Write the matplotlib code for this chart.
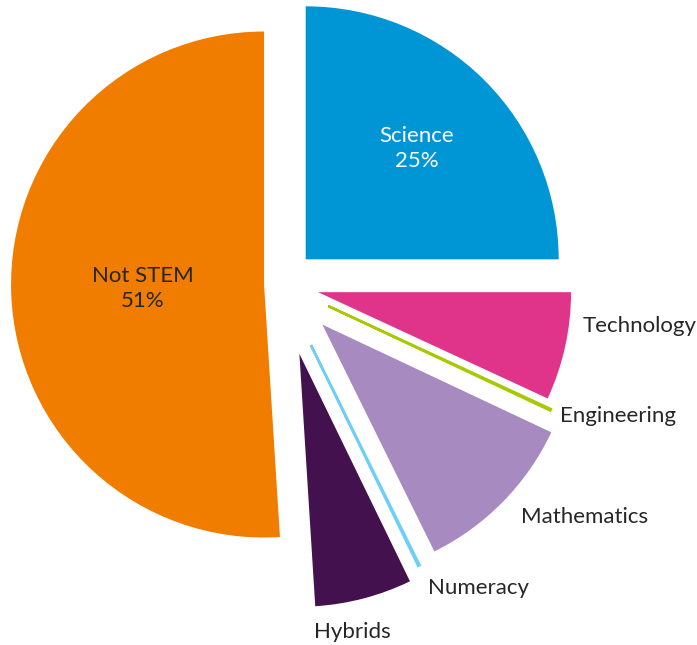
import numpy as np
import matplotlib.pyplot as plt

# shares of each subject group (percent), clockwise from 12 o'clock
categories = ['Science', 'Technology', 'Engineering', 'Mathematics',
              'Numeracy', 'Hybrids', 'Not STEM']
shares = [25, 6.9, 0.1, 10.7, 0.1, 6.2, 51]
colors = ['#0096d6', '#e0338a', '#a8c800', '#a78abf',
          '#6dcff6', '#43124e', '#f07d00']
explode = [0.138, 0.15, 0.206, 0.229, 0.269, 0.285, 0.067]

plt.rcParams['font.family'] = ['Lato', 'DejaVu Sans']

W, H = 697, 645
CX, CY, R = 281, 284, 253   # pie centre and radius in pixels


def to_data(px, py):
    return (px - CX) / R, (CY - py) / R


fig = plt.figure(figsize=(W / 100, H / 100), dpi=100)
ax = fig.add_axes([0, 0, 1, 1])

wedges, _ = ax.pie(shares, colors=colors, explode=explode,
                   startangle=90, counterclock=False,
                   wedgeprops=dict(linewidth=0))

# the two tiny shares are drawn as thin strokes
for w, c in zip(wedges, colors):
    if w.theta2 - w.theta1 < 2:
        w.set_edgecolor(c)
        w.set_linewidth(1.8)
        w.set_radius(0.97)

x0, y0 = to_data(0, H)
x1, y1 = to_data(W, 0)
ax.set_xlim(x0, x1)
ax.set_ylim(y0, y1)
ax.set_aspect('auto')
ax.axis('off')


# labels inside the two big slices
def inside_label(w, text, frac, color):
    mid = np.deg2rad((w.theta1 + w.theta2) / 2)
    cx, cy = w.center
    ax.text(cx + frac * w.r * np.cos(mid), cy + frac * w.r * np.sin(mid),
            text, ha='center', va='center', color=color, fontsize=16,
            linespacing=1.27)


inside_label(wedges[0], 'Science\n25%', 0.62, 'white')
inside_label(wedges[6], 'Not STEM\n51%', 0.48, '#262626')

# labels outside the small slices
outside = {'Technology': (583, 326), 'Engineering': (560, 416),
           'Mathematics': (521, 517), 'Numeracy': (428, 588),
           'Hybrids': (314, 632)}
for name, (px, py) in outside.items():
    ax.text(*to_data(px, py), name, ha='left', va='center',
            color='#262626', fontsize=16)

fig.savefig('out.png', dpi=100)
